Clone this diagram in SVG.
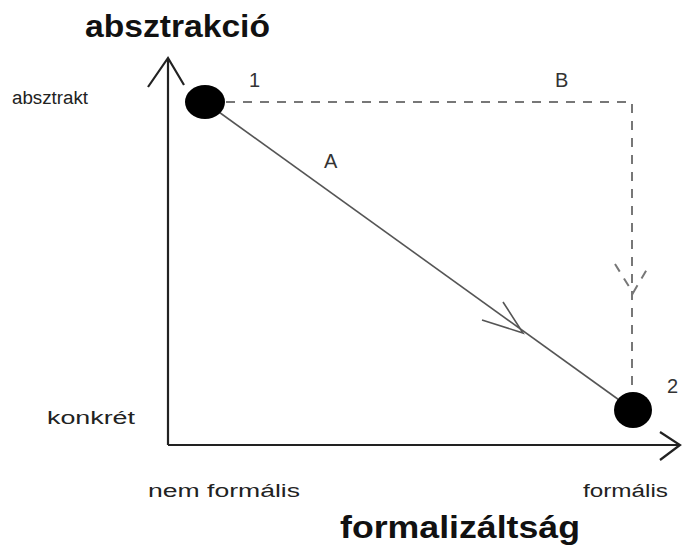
<svg xmlns="http://www.w3.org/2000/svg" width="683" height="547" viewBox="0 0 683 547">
<style>
.t{font-family:"Liberation Sans",Arial,sans-serif;font-size:18px;fill:#222}
.n{font-family:"Liberation Sans",Arial,sans-serif;font-size:20px;fill:#333}
.h{font-family:"Liberation Sans",Arial,sans-serif;font-size:32px;font-weight:bold;fill:#111}
.ax{stroke:#222;stroke-width:2.2;fill:none}
.ln{stroke:#555;stroke-width:1.6;fill:none}
.ds{stroke:#777;stroke-width:2;fill:none;stroke-dasharray:9 8}
.node{fill:#000}
</style>
<rect width="683" height="547" fill="#fff"/>
<g id="axes">
<path class="ax" d="M168,445 V58 M148,87 L168,58 L184,85"/>
<path class="ax" d="M168,445 H680 M660,432 L680,445 L660,460"/>
</g>
<g id="connectors">
<path class="ln" d="M205,102 L633,410"/>
<path class="ln" d="M503,302 L523,333 L482,320"/>
<path class="ds" d="M226,102 H632 V392"/>
<path class="ds" d="M615,264 L633,293 L650,264" stroke-dasharray="6 5"/>
</g>
<g id="node1"><ellipse class="node" cx="205" cy="102" rx="20" ry="17"/></g>
<g id="node2"><ellipse class="node" cx="633" cy="410" rx="19" ry="18"/></g>
<g id="labels">
<text class="h" x="85" y="37" textLength="185" lengthAdjust="spacingAndGlyphs">absztrakció</text>
<text class="h" x="340" y="538" textLength="240" lengthAdjust="spacingAndGlyphs">formalizáltság</text>
<text class="t" x="12" y="104" textLength="76" lengthAdjust="spacingAndGlyphs">absztrakt</text>
<text class="t" x="47" y="424" textLength="88" lengthAdjust="spacingAndGlyphs">konkrét</text>
<text class="t" x="148" y="497" textLength="152" lengthAdjust="spacingAndGlyphs">nem formális</text>
<text class="t" x="583" y="497" textLength="85" lengthAdjust="spacingAndGlyphs">formális</text>
<text class="n" x="249" y="87">1</text>
<text class="n" x="667" y="393">2</text>
<text class="n" x="324" y="168">A</text>
<text class="n" x="555" y="87">B</text>
</g>
</svg>
